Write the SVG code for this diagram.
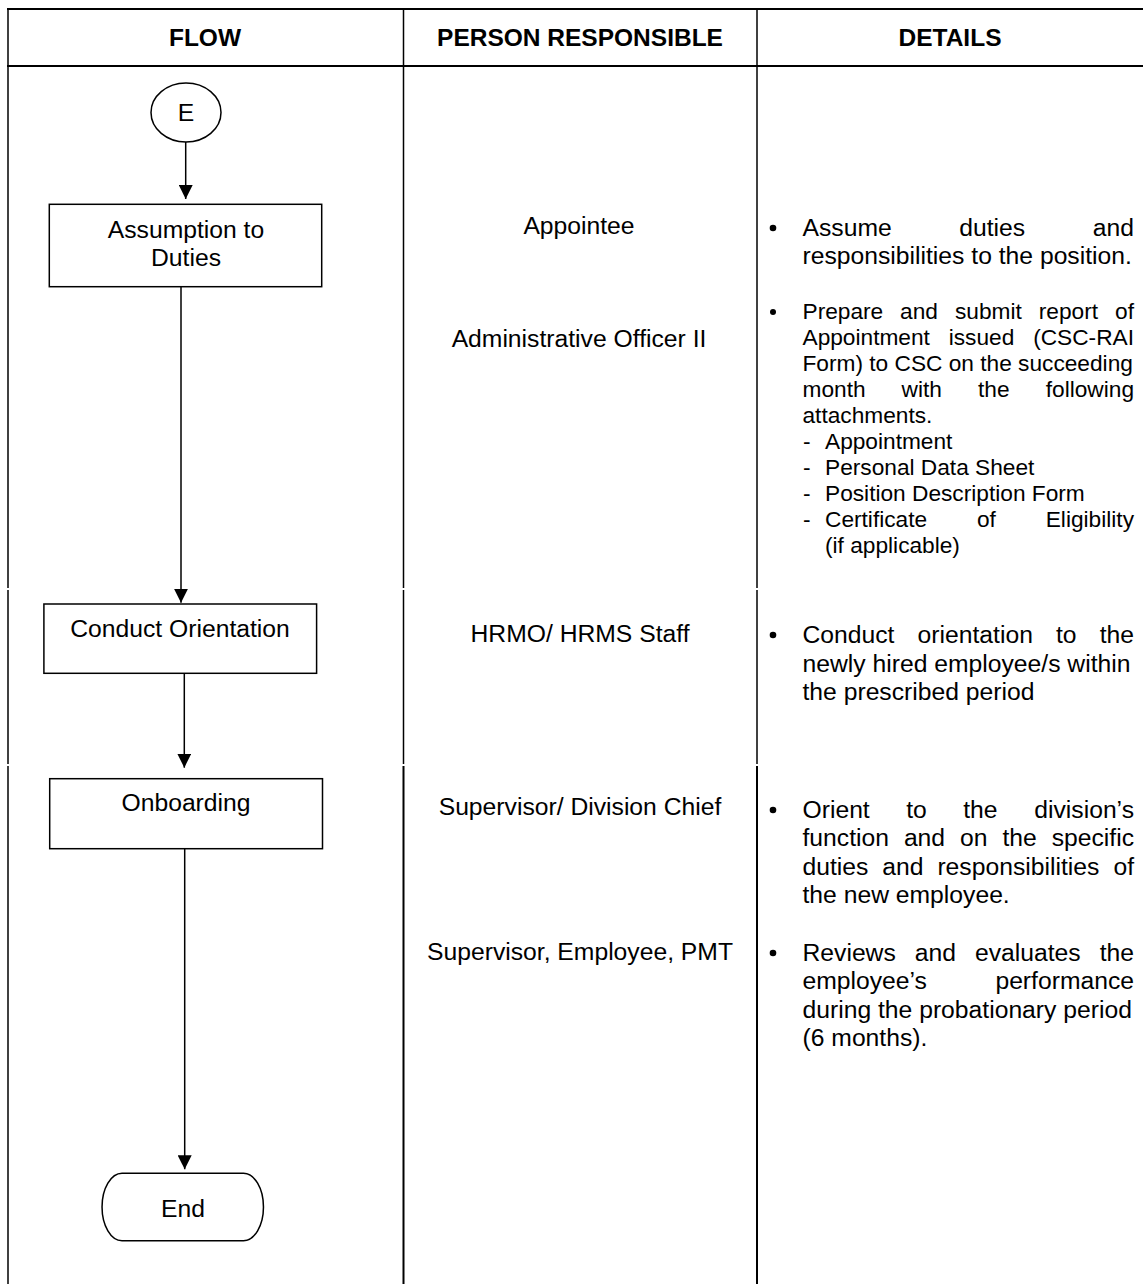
<svg xmlns="http://www.w3.org/2000/svg" width="1143" height="1284" viewBox="0 0 1143 1284">
<style>
text{font-family:"Liberation Sans",Arial,sans-serif;fill:#000}
.hd{font-size:24.5px;font-weight:bold;text-anchor:middle}
.n{font-size:24.7px;text-anchor:middle}
.p{font-size:24.7px;text-anchor:middle}
.d{font-size:24.7px}
.s{font-size:22.7px}
.e{text-anchor:end}
.box{fill:#fff;stroke:#000;stroke-width:1.5}
.grid{stroke:#000;stroke-width:1.5;fill:none}
.thick{stroke:#000;stroke-width:2.2}
.conn{stroke:#000;stroke-width:1.5;fill:none;marker-end:url(#arr)}
</style>
<defs>
<marker id="arr" markerUnits="userSpaceOnUse" markerWidth="14" markerHeight="14" viewBox="0 0 14 14" refX="14" refY="7" orient="auto">
<path d="M0,0 L14,7 L0,14 z" fill="#000"/>
</marker>
</defs>
<rect width="1143" height="1284" fill="#fff"/>
<g id="table">
<line class="thick" x1="7" y1="9" x2="1143" y2="9"/>
<line class="thick" x1="7" y1="66" x2="1143" y2="66"/>
<line class="grid" x1="8" y1="8" x2="8" y2="588"/>
<line class="grid" x1="8" y1="590" x2="8" y2="764"/>
<line class="grid" x1="8" y1="766" x2="8" y2="1284"/>
<line class="grid" x1="403.5" y1="8" x2="403.5" y2="588"/>
<line class="grid" x1="403.5" y1="590" x2="403.5" y2="764"/>
<line class="grid" x1="403.5" y1="766" x2="403.5" y2="1284" style="stroke-width:2"/>
<line class="grid" x1="757" y1="8" x2="757" y2="588"/>
<line class="grid" x1="757" y1="590" x2="757" y2="764"/>
<line class="grid" x1="757" y1="766" x2="757" y2="1284" style="stroke-width:2"/>
<text class="hd" x="205" y="46">FLOW</text>
<text class="hd" x="580" y="46">PERSON RESPONSIBLE</text>
<text class="hd" x="950" y="46">DETAILS</text>
</g>
<g id="connectors">
<line class="conn" x1="185.7" y1="142" x2="185.7" y2="199"/>
<line class="conn" x1="181" y1="287" x2="181" y2="602.7"/>
<line class="conn" x1="184.3" y1="673.3" x2="184.3" y2="767.7"/>
<line class="conn" x1="184.7" y1="848.7" x2="184.7" y2="1169.3"/>
</g>
<g id="node-e">
<ellipse class="box" cx="186" cy="112.5" rx="35" ry="29.5"/>
<text class="n" x="186" y="120.5">E</text>
</g>
<g id="node-assumption">
<rect class="box" x="49.3" y="204.3" width="272.4" height="82.4"/>
<text class="n" x="186" y="237.7">Assumption to</text>
<text class="n" x="186" y="266">Duties</text>
</g>
<g id="node-orientation">
<rect class="box" x="43.9" y="604" width="272.7" height="69.3"/>
<text class="n" x="180" y="636.7">Conduct Orientation</text>
</g>
<g id="node-onboarding">
<rect class="box" x="49.7" y="778.7" width="272.8" height="70"/>
<text class="n" x="186" y="810.5">Onboarding</text>
</g>
<g id="node-end">
<path class="box" d="M122,1173.3 H243.5 A20,33.7 0 0 1 243.5,1240.7 H122 A20,33.7 0 0 1 122,1173.3 Z"/>
<text class="n" x="183" y="1216.7">End</text>
</g>
<g id="persons">
<text class="p" x="579" y="234">Appointee</text>
<text class="p" x="579" y="347">Administrative Officer II</text>
<text class="p" x="580" y="641.7">HRMO/ HRMS Staff</text>
<text class="p" x="580" y="815">Supervisor/ Division Chief</text>
<text class="p" x="580" y="960">Supervisor, Employee, PMT</text>
</g>
<g id="details">
<circle cx="773" cy="228" r="3.3"/>
<text class="d" y="236"><tspan x="802.5">Assume</tspan><tspan x="959.3">duties</tspan><tspan x="1134" class="e">and</tspan></text>
<text class="d" x="802.5" y="264">responsibilities to the position.</text>

<circle cx="773" cy="312" r="3"/>
<text class="s" y="319"><tspan x="802.5">Prepare</tspan><tspan x="900.1">and</tspan><tspan x="955">submit</tspan><tspan x="1038.8">report</tspan><tspan x="1134" class="e">of</tspan></text>
<text class="s" y="345"><tspan x="802.5">Appointment</tspan><tspan x="948.7">issued</tspan><tspan x="1134" class="e">(CSC-RAI</tspan></text>
<text class="s" x="802.5" y="371">Form) to CSC on the succeeding</text>
<text class="s" y="397"><tspan x="802.5">month</tspan><tspan x="901.6">with</tspan><tspan x="978">the</tspan><tspan x="1134" class="e">following</tspan></text>
<text class="s" x="802.5" y="423">attachments.</text>
<text class="s" y="449"><tspan x="803">-</tspan><tspan x="825">Appointment</tspan></text>
<text class="s" y="475"><tspan x="803">-</tspan><tspan x="825">Personal Data Sheet</tspan></text>
<text class="s" y="501"><tspan x="803">-</tspan><tspan x="825">Position Description Form</tspan></text>
<text class="s" y="527"><tspan x="803">-</tspan><tspan x="825">Certificate</tspan><tspan x="977">of</tspan><tspan x="1134" class="e">Eligibility</tspan></text>
<text class="s" x="825" y="553">(if applicable)</text>

<circle cx="773" cy="635" r="3.3"/>
<text class="d" y="643"><tspan x="802.5">Conduct</tspan><tspan x="917.6">orientation</tspan><tspan x="1056">to</tspan><tspan x="1134" class="e">the</tspan></text>
<text class="d" x="802.5" y="671.5">newly hired employee/s within</text>
<text class="d" x="802.5" y="700">the prescribed period</text>

<circle cx="773" cy="810" r="3.3"/>
<text class="d" y="818"><tspan x="802.5">Orient</tspan><tspan x="906.2">to</tspan><tspan x="963.2">the</tspan><tspan x="1134" class="e">division’s</tspan></text>
<text class="d" y="846.4"><tspan x="802.5">function</tspan><tspan x="903.9">and</tspan><tspan x="960">on</tspan><tspan x="1002.4">the</tspan><tspan x="1134" class="e">specific</tspan></text>
<text class="d" y="874.8"><tspan x="802.5">duties</tspan><tspan x="882.3">and</tspan><tspan x="937.4">responsibilities</tspan><tspan x="1134" class="e">of</tspan></text>
<text class="d" x="802.5" y="903.2">the new employee.</text>

<circle cx="773" cy="953" r="3.3"/>
<text class="d" y="961"><tspan x="802.5">Reviews</tspan><tspan x="914.8">and</tspan><tspan x="975">evaluates</tspan><tspan x="1134" class="e">the</tspan></text>
<text class="d" y="989.4"><tspan x="802.5">employee’s</tspan><tspan x="1134" class="e">performance</tspan></text>
<text class="d" x="802.5" y="1017.8">during the probationary period</text>
<text class="d" x="802.5" y="1046.2">(6 months).</text>
</g>
</svg>
